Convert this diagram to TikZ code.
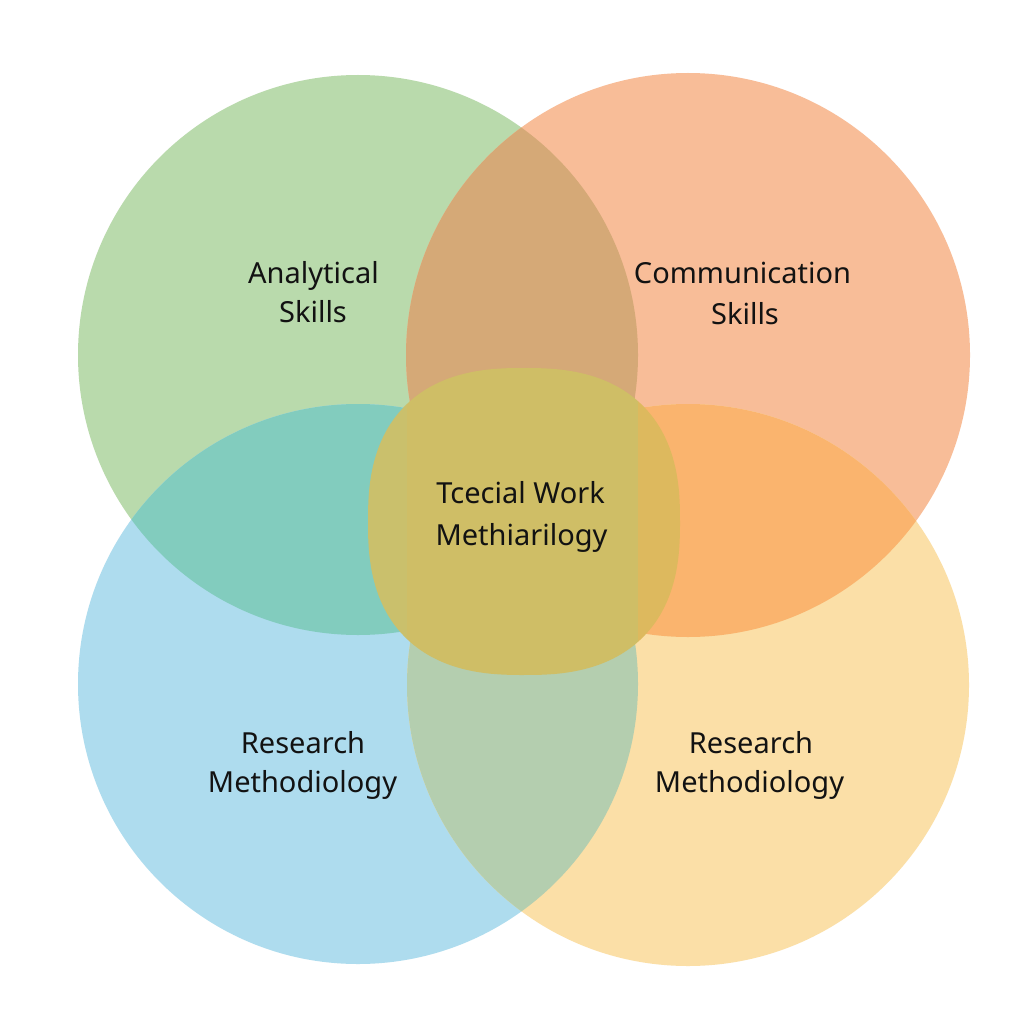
\documentclass[tikz,border=0pt]{standalone}
\usepackage{fontspec}
\setmainfont{Noto Sans}
\definecolor{cgreen}{HTML}{B9DAAC}
\definecolor{corange}{HTML}{F8BD98}
\definecolor{cblue}{HTML}{AEDCEE}
\definecolor{cyellow}{HTML}{FBDFA7}
\definecolor{cgo}{HTML}{D5A977}
\definecolor{cgb}{HTML}{82CCBE}
\definecolor{coy}{HTML}{FAB46E}
\definecolor{cby}{HTML}{B4CEAF}
\definecolor{cquad}{HTML}{C0BE8C}
\definecolor{cleft}{HTML}{CAC06C}
\definecolor{cmid}{HTML}{CFBE66}
\definecolor{cright}{HTML}{DDB95E}
\definecolor{ctext}{HTML}{121212}
\tikzset{
  lbl/.style={anchor=base, inner sep=0pt, text=ctext, font=\fontsize{29}{35}\selectfont},
}
\begin{document}
\begin{tikzpicture}[x=1pt,y=-1pt]
\fill[white] (0,0) rectangle (1024,1024);
\useasboundingbox (0,0) rectangle (1024,1024);
\coordinate (G) at (358,355);
\coordinate (O) at (688,355);
\coordinate (B) at (358,684);
\coordinate (Y) at (688,685);
% base circles
\fill[cgreen] (G) circle (280);
\fill[corange] (O) circle (282);
\fill[cblue] (B) circle (280);
\fill[cyellow] (Y) circle (281);
% pairwise lenses
\begin{scope}\clip (G) circle (280); \fill[cgo] (O) circle (282);\end{scope}
\begin{scope}\clip (G) circle (280); \fill[cgb] (B) circle (280);\end{scope}
\begin{scope}\clip (O) circle (282); \fill[coy] (Y) circle (281);\end{scope}
\begin{scope}\clip (B) circle (280); \fill[cby] (Y) circle (281);\end{scope}
% triple / quadruple overlaps
\begin{scope}\clip (G) circle (280); \clip (O) circle (282); \fill[cquad] (B) circle (280);\end{scope}
\begin{scope}\clip (G) circle (280); \clip (O) circle (282); \fill[cquad] (Y) circle (281);\end{scope}
% central rounded shape
\begin{scope}
\clip plot[domain=0.5:360.5, samples=181]
  ({524+156*sign(cos(\x))*pow(abs(cos(\x)),0.8)},
   {521.5+153.5*sign(sin(\x))*pow(abs(sin(\x)),0.8)}) -- cycle;
\fill[cleft] (360,360) rectangle (407,690);
\fill[cmid] (407,360) rectangle (638,690);
\fill[cright] (638,360) rectangle (690,690);
\end{scope}
% labels
\node[lbl] (a1) at (313.5,283) {Analytical};
\node[lbl] (a2) at (313,322) {Skills};
\node[lbl] (c1) at (742.5,283.5) {Communication};
\node[lbl] (c2) at (745,324) {Skills};
\node[lbl] (r1) at (303,753) {Research};
\node[lbl] (r2) at (302.5,792) {Methodiology};
\node[lbl] (s1) at (751,753) {Research};
\node[lbl] (s2) at (749.5,792) {Methodiology};
\node[lbl] (m1) at (520.5,503) {Tcecial Work};
\node[lbl] (m2) at (521.5,545) {Methiarilogy};
\end{tikzpicture}
\end{document}
